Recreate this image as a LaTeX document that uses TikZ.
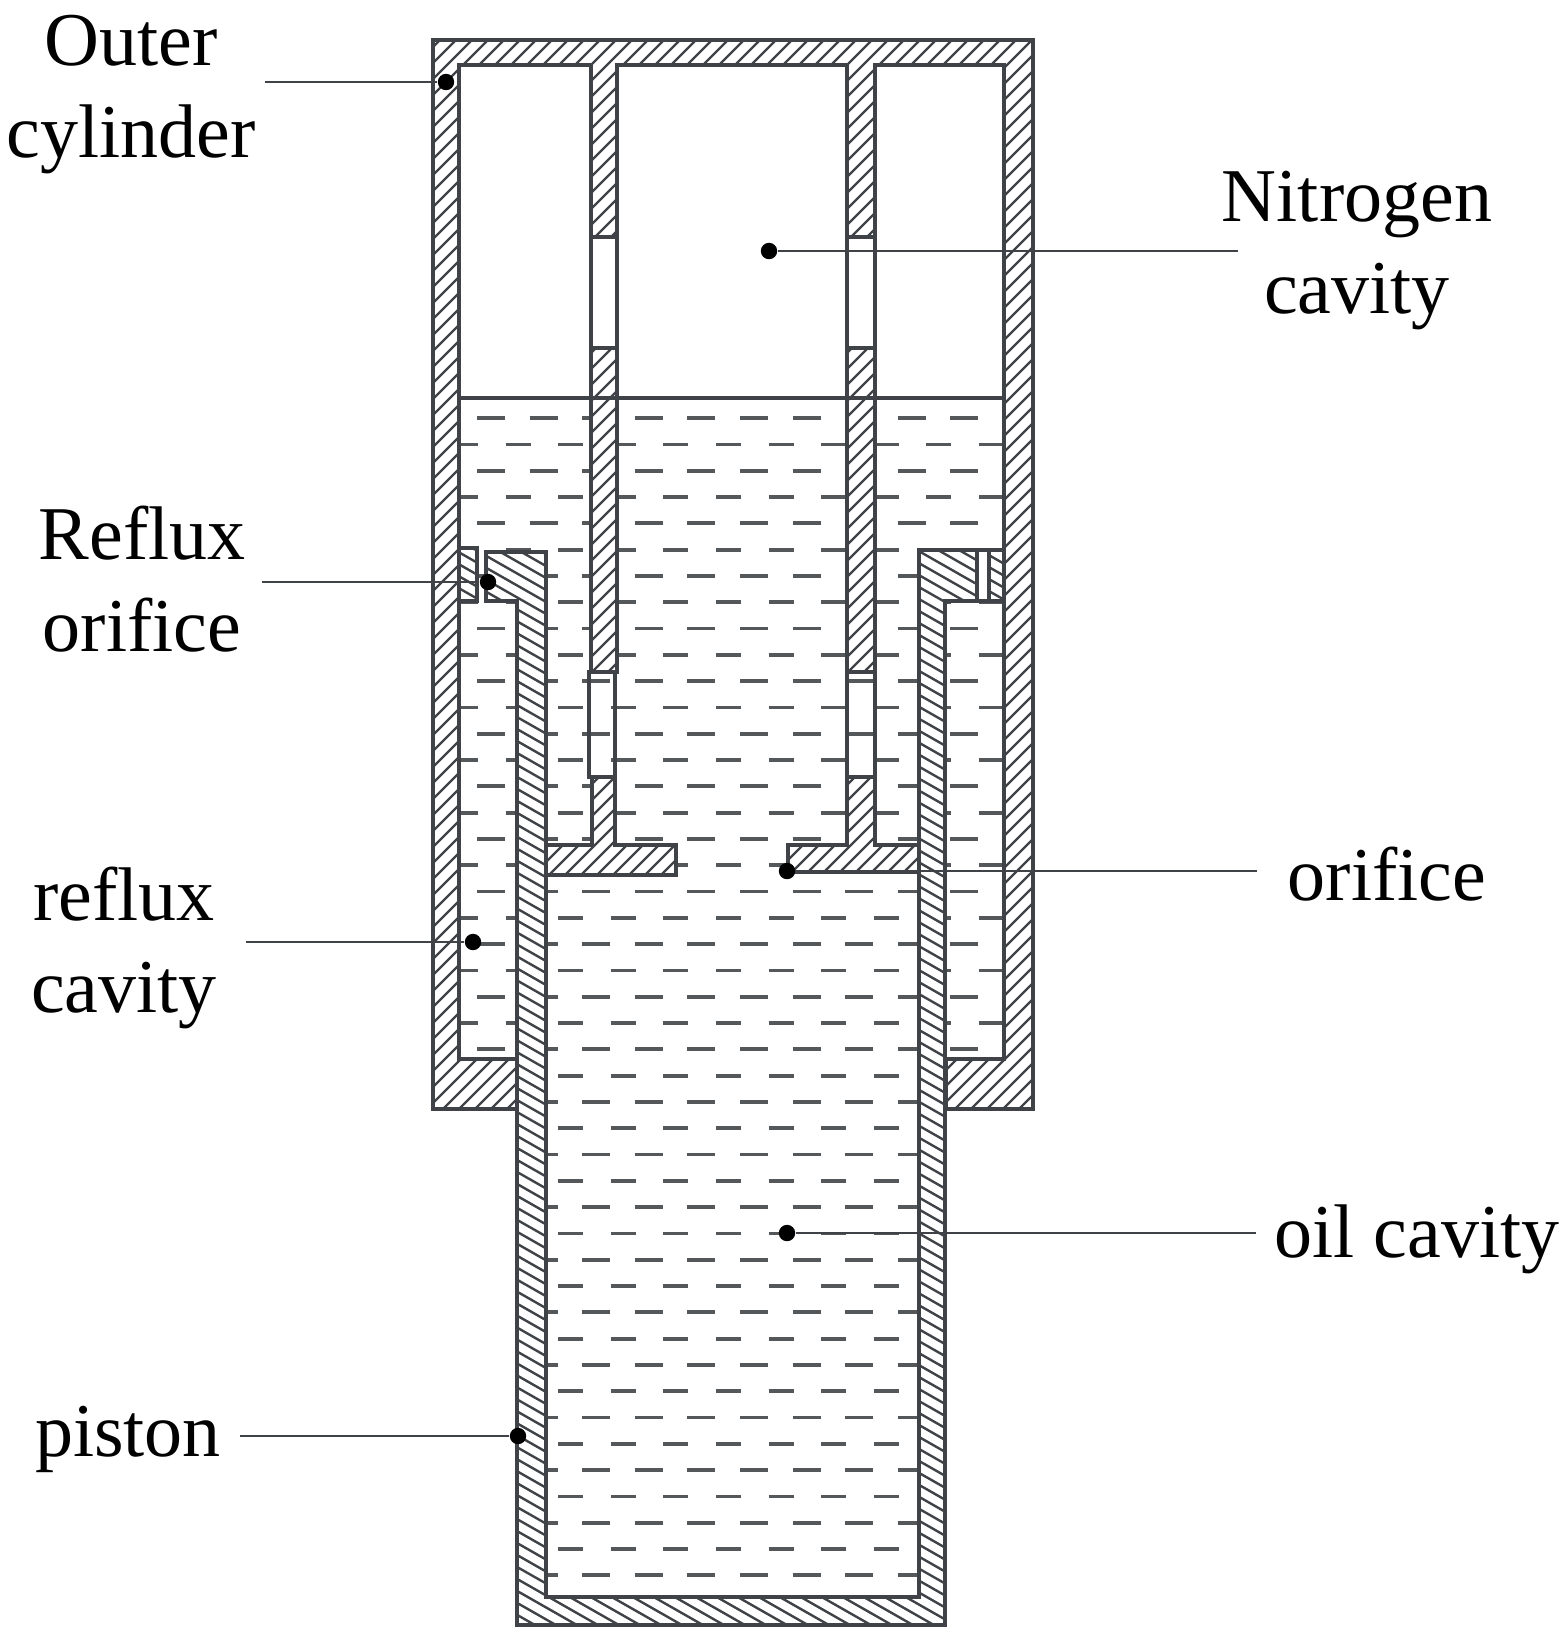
\documentclass[tikz,border=0pt]{standalone}
\usepackage{fontspec}
\setmainfont{Liberation Serif}
\definecolor{ink}{HTML}{3F4347}
\definecolor{dashc}{HTML}{55585B}
\tikzset{
  outline/.style={draw=ink,line width=1.55pt,line join=miter},
  hatchln/.style={draw=ink,line width=1.2pt},
  dashln/.style={draw=dashc,line width=1.9pt},
  leader/.style={draw=ink,line width=1.2pt},
  lbl/.style={font=\fontsize{38}{46}\selectfont,text=black,align=center,inner sep=0pt},
  dotmark/.style={circle,fill=black,inner sep=0pt,minimum size=8.2pt}
}
\newcommand{\hatchNE}[1]{%
  \begin{scope}\clip #1;
    \foreach \k in {400,416,...,2800} {\draw[hatchln] (\k,0) -- ++(-1700,1700);}
  \end{scope}}
\newcommand{\hatchNW}[1]{%
  \begin{scope}\clip #1;
    \foreach \k in {-2400,-2379,...,20} {\draw[hatchln] (\k,0) -- ++(2900,1653);}
  \end{scope}}
\newcommand{\solidpart}[2]{%
  \fill[white] #2;
  #1{#2}
  \draw[outline] #2;}
\def\pShell{(433,40) -- (1033,40) -- (1033,1109) -- (946,1109) -- (946,1059) -- (1004,1059) -- (1004,65) -- (875,65) -- (875,237) -- (847,237) -- (847,65) -- (617,65) -- (617,237) -- (591,237) -- (591,65) -- (459,65) -- (459,1059) -- (517,1059) -- (517,1109) -- (433,1109) -- cycle}
\def\pWallL{(591,348) -- (617,348) -- (617,672) -- (591,672) -- cycle}
\def\pWallR{(847,348) -- (875,348) -- (875,672) -- (847,672) -- cycle}
\def\pTeeL{(592,777) -- (615,777) -- (615,845) -- (676,845) -- (676,875) -- (546,875) -- (546,845) -- (592,845) -- cycle}
\def\pTeeR{(847,777) -- (875,777) -- (875,845) -- (920,845) -- (920,872) -- (788,872) -- (788,845) -- (847,845) -- cycle}
\def\pPiston{(486,552) -- (546,552) -- (546,1597) -- (919,1597) -- (919,550) -- (977,550) -- (977,601) -- (945,601) -- (945,1625) -- (517,1625) -- (517,601) -- (486,601) -- cycle}
\def\pBlockL{(459,548) -- (477,548) -- (477,601) -- (459,601) -- cycle}
\def\pBlockR{(989,550) -- (1004,550) -- (1004,601) -- (989,601) -- cycle}
\begin{document}
\begin{tikzpicture}[x=0.5pt,y=-0.5pt]
\useasboundingbox (0,0) rectangle (1568,1651);
\fill[white] (0,0) rectangle (1568,1651);
% oil marks
\begin{scope}
  \clip (459,398) -- (1004,398) -- (1004,1059) -- (919,1059) -- (919,1597) -- (546,1597) -- (546,1059) -- (459,1059) -- cycle;
  \foreach \r in {0,...,22} {
    \pgfmathsetmacro{\yb}{418+52.6*\r}
    \pgfmathsetmacro{\ya}{444.5+52.6*\r}
    \foreach \c in {0,...,10} {
      \pgfmathsetmacro{\xb}{477+52.6*\c}
      \pgfmathsetmacro{\xa}{453+52.6*\c}
      \draw[dashln] (\xb,\yb) -- ++(28,0);
      \draw[dashln] (\xa,\ya) -- ++(25,0);
    }
  }
\end{scope}
% walls
\solidpart{\hatchNE}{\pShell}
\solidpart{\hatchNE}{\pWallL}
\solidpart{\hatchNE}{\pWallR}
\solidpart{\hatchNE}{\pTeeL}
\solidpart{\hatchNE}{\pTeeR}
\solidpart{\hatchNW}{\pPiston}
\solidpart{\hatchNW}{\pBlockL}
\solidpart{\hatchNW}{\pBlockR}
% upper windows
\draw[outline] (591,237) rectangle (617,348);
\draw[outline] (847,237) rectangle (875,348);
% lower windows
\draw[outline] (589,672) rectangle (615,777);
\draw[outline] (847,672) rectangle (875,777);
% orifice in the right ring
\draw[outline] (977,550) -- (989,550);
\draw[outline] (977,601) -- (989,601);
% oil level
\draw[outline] (459,398) -- (1004,398);
% markers
\node[dotmark] (dOuter) at (446,82) {};
\node[dotmark] (dNitro) at (769,251) {};
\node[dotmark] (dRefO) at (488,582) {};
\node[dotmark] (dOrif) at (787,871) {};
\node[dotmark] (dRefC) at (473,942) {};
\node[dotmark] (dOil) at (787,1233) {};
\node[dotmark] (dPist) at (518,1436) {};
\coordinate (eOuter) at (265,82);
\coordinate (eNitro) at (1238,251);
\coordinate (eRefO) at (262,582);
\coordinate (eOrif) at (1257,871);
\coordinate (eRefC) at (246,942);
\coordinate (eOil) at (1256,1233);
\coordinate (ePist) at (240,1436);
\draw[leader] (eOuter) -- (dOuter);
\draw[leader] (eNitro) -- (dNitro);
\draw[leader] (eRefO) -- (dRefO);
\draw[leader] (eOrif) -- (dOrif);
\draw[leader] (eRefC) -- (dRefC);
\draw[leader] (eOil) -- (dOil);
\draw[leader] (ePist) -- (dPist);
% labels
\node[lbl] (tOuter) at (131,95) {Outer\\cylinder};
\node[lbl] (tNitro) at (1357,251) {Nitrogen\\cavity};
\node[lbl] (tRefO) at (142,579) {Reflux\\orifice};
\node[lbl,anchor=base] (tOrif) at (1387,900) {orifice};
\node[lbl] (tRefC) at (124,948) {reflux\\cavity};
\node[lbl,anchor=base] (tOil) at (1417,1257) {oil cavity};
\node[lbl,anchor=base] (tPist) at (128,1456) {piston};
\end{tikzpicture}
\end{document}
